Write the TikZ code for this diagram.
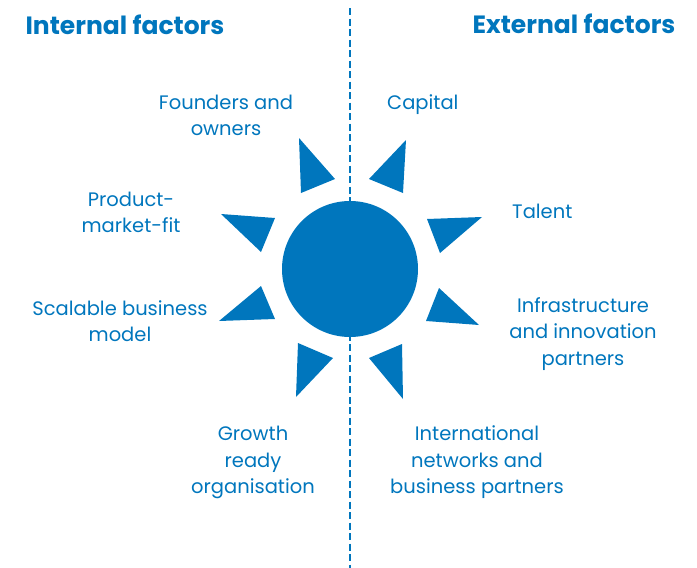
\documentclass[tikz,border=0pt]{standalone}
\usepackage{fontspec}
\setmainfont{Poppins}
\definecolor{eblue}{RGB}{0,118,189}
\begin{document}
\begin{tikzpicture}[x=1pt,y=-1pt,
  lbl/.style={text=eblue,font=\fontsize{19.5}{26.5}\selectfont,align=center,inner sep=0pt},
  head/.style={text=eblue,font=\fontsize{25}{30}\selectfont\bfseries,inner sep=0pt},
  ray/.style={fill=eblue}]
\useasboundingbox (0,0) rectangle (697,568);
\draw[eblue,line width=2.5pt,dash pattern=on 7pt off 3.5pt] (350,8) -- (350,568);
\fill[eblue] (350,269) circle (68);
% rays
\fill[ray] (299,138) -- (335,179) -- (301,193) -- cycle;
\fill[ray] (406,140) -- (369,179) -- (403,193) -- cycle;
\fill[ray] (221,214) -- (275,218) -- (261,252) -- cycle;
\fill[ray] (427,219) -- (482,217) -- (440,253) -- cycle;
\fill[ray] (261,286) -- (275,319) -- (219,321) -- cycle;
\fill[ray] (439,288) -- (479,325) -- (426,321) -- cycle;
\fill[ray] (298,343) -- (333,358) -- (296,397) -- cycle;
\fill[ray] (402,344) -- (369,358) -- (403,399) -- cycle;
% headings
\node[head] (hin) at (125,25) {Internal factors};
\node[head] (hex) at (574,24) {External factors};
% labels
\node[lbl] (fo) at (226,115.5) {Founders and\\owners};
\node[lbl,anchor=west] (ca) at (387,105) {Capital};
\node[lbl] (pm) at (131,212.5) {Product-\\market-fit};
\node[lbl,anchor=west] (ta) at (512,211) {Talent};
\node[lbl] (sb) at (120,321) {Scalable business\\model};
\node[lbl] (ip) at (583,334) {Infrastructure\\and innovation\\partners};
\node[lbl] (gr) at (253,462.5) {Growth\\ready\\organisation};
\node[lbl] (in) at (477,462.5) {International\\networks and\\business partners};
\end{tikzpicture}
\end{document}
